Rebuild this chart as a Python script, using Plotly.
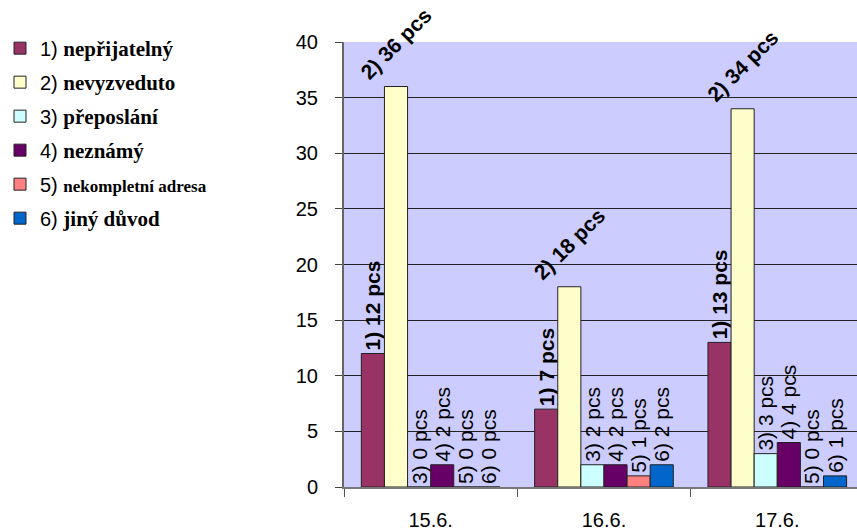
import plotly.graph_objects as go

categories = ["15.6.", "16.6.", "17.6."]
series_names = ["nepřijatelný", "nevyzveduto", "přeposlání", "neznámý", "nekompletní adresa", "jiný důvod"]
s1 = [12, 7, 13]
s2 = [36, 18, 34]
s3 = [0, 2, 3]
s4 = [2, 2, 4]
s5 = [0, 1, 0]
s6 = [0, 2, 1]
values = [s1, s2, s3, s4, s5, s6]
colors = ["#993366", "#FFFFCC", "#CCFFFF", "#660066", "#FF8080", "#0066CC"]
y_ticks = [0, 5, 10, 15, 20, 25, 30, 35, 40]

SANS = "Liberation Sans, Arial, sans-serif"
SERIF = "Liberation Serif"

fig = go.Figure()
for i, (name, vals, col) in enumerate(zip(series_names, values, colors)):
    n = i + 1
    fsize = 17 if n == 5 else 21
    label = (f'{n}) <b><span style="font-family:{SERIF};font-size:{fsize}px">'
             f'{name}</span></b>')
    bold = n in (1, 2)
    fig.add_trace(go.Bar(
        x=categories, y=vals, name=label, legendgroup=f"g{n}",
        marker=dict(color=col, line=dict(color="#222222", width=1)),
        texttemplate=f"{n}) %{{y}} pcs",
        textposition="outside",
        textangle=-45 if n == 2 else -90,
        constraintext="none",
        cliponaxis=False,
        textfont=dict(family=SANS, size=21, color="black",
                      weight="bold" if bold else "normal"),
        hoverinfo="skip",
    ))

fig.update_layout(
    width=857, height=531,
    margin=dict(l=339, r=0, t=42, b=44),
    paper_bgcolor="white",
    plot_bgcolor="#CCCCFF",
    barmode="group", bargap=0.2, bargroupgap=0,
    font=dict(family=SANS, size=18, color="black"),
    showlegend=True,
    legend=dict(x=-0.672, xanchor="left", y=1.03, yanchor="top",
                bgcolor="rgba(0,0,0,0)", tracegroupgap=5,
                font=dict(family=SANS, size=20, color="black"),
                itemwidth=30),
    xaxis=dict(range=[-0.5, -0.5 + 518 / 175], showgrid=False,
               showline=True, linecolor="#777777", linewidth=1.5,
               ticks="outside", tickson="boundaries", ticklen=8,
               tickcolor="#555555",
               tickfont=dict(family=SANS, size=20), ticklabelstandoff=14),
    yaxis=dict(range=[0, 40], tickvals=y_ticks, showgrid=True,
               gridcolor="#222222", gridwidth=1, zeroline=False,
               showline=True, linecolor="#666666", linewidth=2,
               ticks="outside", ticklen=7, tickcolor="#444444",
               tickfont=dict(family=SANS, size=20), ticklabelstandoff=13),
)

fig.write_html("out.html")
